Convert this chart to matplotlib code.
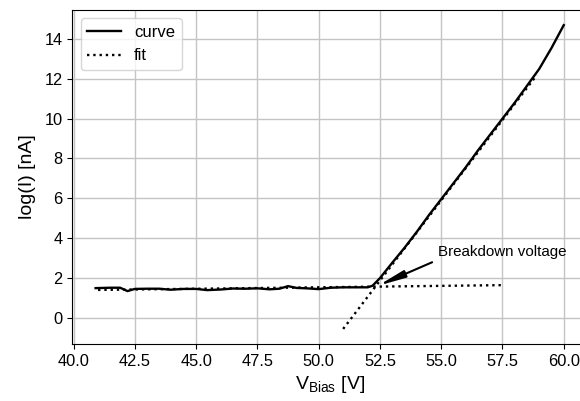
import matplotlib.pyplot as plt
import numpy as np

plt.rcParams["font.family"] = ["Liberation Sans", "DejaVu Sans"]
plt.rcParams["mathtext.fontset"] = "custom"
plt.rcParams["mathtext.rm"] = "Liberation Sans"

# ---------- data ---------- #
v_bias = [40.9, 41.5, 41.9, 42.2, 42.5, 43.0, 43.5, 43.95, 44.5, 45.0,
          45.45, 46.0, 46.5, 47.0, 47.5, 48.0, 48.4, 48.75, 49.1, 49.5,
          50.0, 50.5, 51.0, 51.5, 52.0, 52.2, 52.5, 53.0, 53.5, 54.0,
          54.5, 55.0, 55.5, 56.0, 56.5, 57.0, 57.5, 58.0, 58.5, 59.0,
          59.5, 60.0]
log_i = [1.48, 1.50, 1.50, 1.33, 1.44, 1.45, 1.45, 1.40, 1.44, 1.44,
         1.38, 1.41, 1.46, 1.45, 1.47, 1.42, 1.45, 1.58, 1.49, 1.47,
         1.43, 1.50, 1.52, 1.52, 1.52, 1.60, 1.98, 2.75, 3.50, 4.30,
         5.15, 5.95, 6.75, 7.55, 8.40, 9.20, 10.00, 10.80, 11.65, 12.50,
         13.55, 14.70]

# linear fits (below / above breakdown)
fit_low_x = [41.0, 57.5]
fit_low_y = [1.39, 1.63]
fit_high_x = [51.0, 58.9]
fit_high_y = [-0.57, 12.19]

vbd_xy = (52.42, 1.60)          # arrow tip
text_xy = (54.63, 2.78)         # arrow tail

# ---------- plotting ---------- #
fig = plt.figure(figsize=(5.8, 4.01), dpi=100)
ax = fig.add_axes([0.1247, 0.1421, 0.8874, 0.8329])

ax.plot(v_bias, log_i, color="black", linewidth=1.7, label="curve")
ax.plot(fit_low_x, fit_low_y, color="black", linestyle=":", linewidth=1.7,
        label="fit")
ax.plot(fit_high_x, fit_high_y, color="black", linestyle=":", linewidth=1.7)

ax.annotate("", xy=vbd_xy, xytext=text_xy,
            arrowprops=dict(arrowstyle="-|>,head_length=1.6,head_width=0.22",
                            color="black", lw=1.5, mutation_scale=10,
                            shrinkA=0, shrinkB=0))
ax.text(54.86, 3.07, "Breakdown voltage", fontsize=10.9, va="baseline")

# ---------- cosmetics ---------- #
ax.set_xlim(39.95, 60.95)
ax.set_ylim(-1.33, 15.46)
ax.set_xticks(np.arange(40, 60.1, 2.5))
ax.set_xticklabels([f"{t:.1f}" for t in np.arange(40, 60.1, 2.5)])
ax.set_yticks(np.arange(0, 15, 2))
ax.tick_params(labelsize=11.8)
ax.grid(True, color="#c4c4c4", linewidth=1.0)
ax.set_axisbelow(True)
ax.spines["right"].set_visible(False)

ax.set_xlabel(r"V$_{\mathrm{Bias}}$ [V]", fontsize=14, labelpad=4)
ax.set_ylabel("log(I) [nA]", fontsize=14, labelpad=6)
ax.legend(loc="upper left", fontsize=12, handlelength=2.0)

fig.savefig("out.png", dpi=100)
